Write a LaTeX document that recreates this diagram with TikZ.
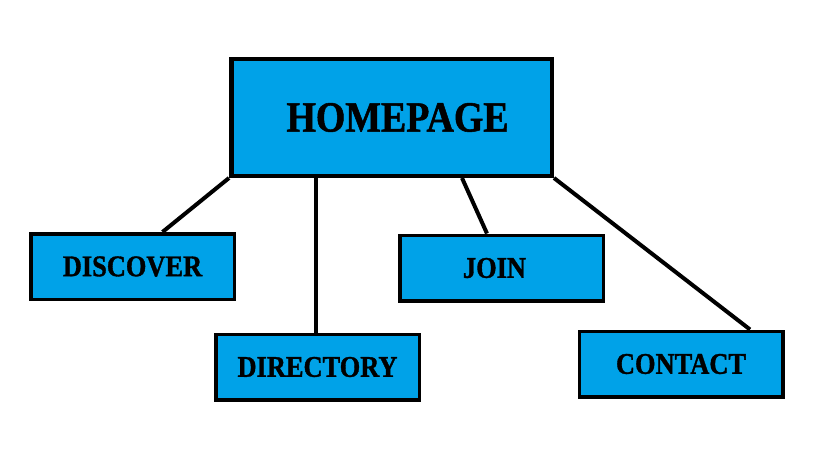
\documentclass[tikz,border=0pt]{standalone}
\usepackage{fontspec}
\newfontfamily\pagefont[FakeStretch=0.88, BoldFeatures={FakeBold=1.2}]{Liberation Serif}
\definecolor{paintblue}{HTML}{00A2E8}

\begin{document}
\begin{tikzpicture}[x=1pt, y=-1pt,
		page/.style={rectangle, draw, fill=paintblue, line width=3.5pt, inner sep=0pt,
			minimum width=203.5pt, minimum height=65.5pt,
			font=\pagefont\bfseries\fontsize{30}{30}\selectfont},
		mainpage/.style={page, line width=4.5pt, minimum width=320.5pt, minimum height=116.5pt,
			font=\pagefont\bfseries\fontsize{43}{43}\selectfont},
		link/.style={line width=4pt}]
		\useasboundingbox (0,0) rectangle (819,460);

		\node[mainpage] (home) at (391.5,117.5) {\hspace*{12pt}HOMEPAGE};
		\node[page] (discover) at (132.5,266.5) {DISCOVER};
		\node[page] (directory) at (317.5,367) {DIRECTORY};
		\node[page] (join) at (501.5,268) {JOIN\hspace*{14pt}};
		\node[page] (contact) at (681,364) {CONTACT};

		\draw[link] (home.south west)--([xshift=30pt]discover.north);
		\draw[link] ([xshift=-1.5pt]directory.north |- home.south)--([xshift=-1.5pt]directory.north);
		\draw[link] ([xshift=70.5pt]home.south)--([xshift=-14.5pt]join.north);
		\draw[link] (home.south east)--([xshift=69pt]contact.north);
	\end{tikzpicture}
\end{document}
